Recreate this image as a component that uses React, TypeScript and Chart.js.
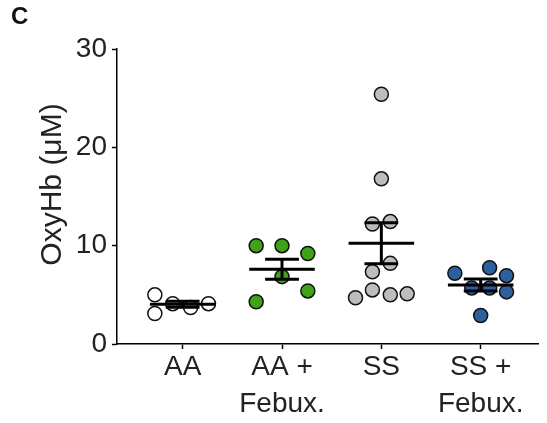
import React, { useEffect, useRef } from "react";
import { Chart, registerables } from "chart.js";

Chart.register(...registerables);

const categories: string[][] = [["AA"], ["AA +", "Febux."], ["SS"], ["SS +", "Febux."]];
const yTicks = [0, 10, 20, 30];
const yTitle = "OxyHb (μM)";

const aaValues = [5.0, 3.1, 4.1, 3.7, 4.1];
const aaJitter = [-0.28, -0.28, -0.1, 0.08, 0.26];

const aaFebuxValues = [10.0, 10.0, 9.2, 6.85, 5.4, 4.3];
const aaFebuxJitter = [-0.26, 0, 0.26, 0, 0.26, -0.26];

const ssValues = [25.4, 16.8, 12.2, 12.45, 8.2, 7.35, 5.5, 4.7, 5.0, 5.1];
const ssJitter = [0, 0, -0.09, 0.09, 0.09, -0.09, -0.09, -0.26, 0.09, 0.26];

const ssFebuxValues = [7.2, 7.75, 6.95, 5.7, 5.7, 5.3, 2.9];
const ssFebuxJitter = [-0.26, 0.09, 0.26, -0.09, 0.09, 0.26, 0];

const means = [4.05, 7.6, 10.25, 6.0];
const sems = [0.3, 1.02, 2.08, 0.6];

const FONT = "'Liberation Sans', Arial, Helvetica, sans-serif";

function pts(group: number, vals: number[], jit: number[]) {
  return vals.map((v, i) => ({ x: group + jit[i], y: v }));
}

const yTitlePlugin = {
  id: "yTitlePlugin",
  afterDraw(chart: any) {
    const ctx = chart.ctx;
    const area = chart.chartArea;
    ctx.save();
    ctx.translate(53, (area.top + area.bottom) / 2 - 12);
    ctx.rotate(-Math.PI / 2);
    ctx.font = `30px ${FONT}`;
    ctx.fillStyle = "#222222";
    ctx.textAlign = "center";
    ctx.textBaseline = "middle";
    ctx.fillText(yTitle, 0, 0);
    ctx.restore();
  },
};

export default function App() {
  const ref = useRef<HTMLCanvasElement | null>(null);

  useEffect(() => {
    if (!ref.current) return;
    const meanData: any[] = [];
    const semData: any[] = [];
    means.forEach((m, i) => {
      const c = i + 1;
      const s = sems[i];
      meanData.push({ x: c - 0.33, y: m }, { x: c + 0.33, y: m }, { x: c + 0.4, y: null });
      semData.push(
        { x: c - 0.17, y: m + s }, { x: c + 0.17, y: m + s }, { x: c + 0.2, y: null },
        { x: c, y: m + s }, { x: c, y: m - s }, { x: c + 0.01, y: null },
        { x: c - 0.17, y: m - s }, { x: c + 0.17, y: m - s }, { x: c + 0.2, y: null }
      );
    });

    const pointDs = (data: any[], color: string) => ({
      type: "scatter" as const,
      data,
      backgroundColor: color,
      borderColor: "#111111",
      borderWidth: 1.5,
      pointRadius: 7,
      pointHoverRadius: 7,
      order: 2,
    });

    const lineDs = (data: any[]) => ({
      type: "line" as const,
      data,
      borderColor: "#000000",
      borderWidth: 3,
      pointRadius: 0,
      spanGaps: false,
      fill: false,
      order: 1,
      parsing: false,
    });

    const chart = new Chart(ref.current, {
      type: "scatter",
      data: {
        datasets: [
          pointDs(pts(1, aaValues, aaJitter), "#ffffff"),
          pointDs(pts(2, aaFebuxValues, aaFebuxJitter), "#40A216"),
          pointDs(pts(3, ssValues, ssJitter), "#BDBDBD"),
          pointDs(pts(4, ssFebuxValues, ssFebuxJitter), "#2E60A0"),
          lineDs(meanData) as any,
          lineDs(semData) as any,
        ],
      },
      options: {
        animation: false,
        responsive: false,
        events: [],
        layout: { padding: { left: 0, right: 0, top: 49, bottom: 0 } },
        plugins: { legend: { display: false }, tooltip: { enabled: false } },
        scales: {
          x: {
            type: "linear",
            min: 0.339,
            max: 4.582,
            afterBuildTicks: (s: any) => {
              s.ticks = categories.map((_, i) => ({ value: i + 1 }));
            },
            afterFit: (s: any) => {
              s.height = 423 - 344;
            },
            ticks: {
              callback: (v: any) => categories[Number(v) - 1] ?? "",
              color: "#222222",
              font: { family: FONT, size: 28, lineHeight: 1.32 },
              padding: 0,
              maxRotation: 0,
              autoSkip: false,
            },
            grid: { drawOnChartArea: false, tickLength: 5, tickColor: "#000", tickWidth: 1.5 },
            border: { color: "#000", width: 1.5 },
          },
          y: {
            type: "linear",
            min: 0,
            max: 30,
            afterBuildTicks: (s: any) => {
              s.ticks = yTicks.map((v) => ({ value: v }));
            },
            afterFit: (s: any) => {
              s.width = 117;
            },
            ticks: {
              color: "#222222",
              font: { family: FONT, size: 28 },
              padding: 5,
            },
            grid: { drawOnChartArea: false, tickLength: 5, tickColor: "#000", tickWidth: 1.5 },
            border: { color: "#000", width: 1.5 },
          },
        },
      },
      plugins: [yTitlePlugin],
    });
    return () => chart.destroy();
  }, []);

  return (
    <div style={{ position: "absolute", left: 0, top: 0, width: 547, height: 423, background: "#fff" }}>
      <canvas ref={ref} width={547} height={423} style={{ display: "block" }} />
      <div
        style={{
          position: "absolute",
          left: 11,
          top: 2,
          fontFamily: FONT,
          fontWeight: "bold",
          fontSize: 24,
          lineHeight: "28px",
          color: "#111",
        }}
      >
        C
      </div>
    </div>
  );
}
